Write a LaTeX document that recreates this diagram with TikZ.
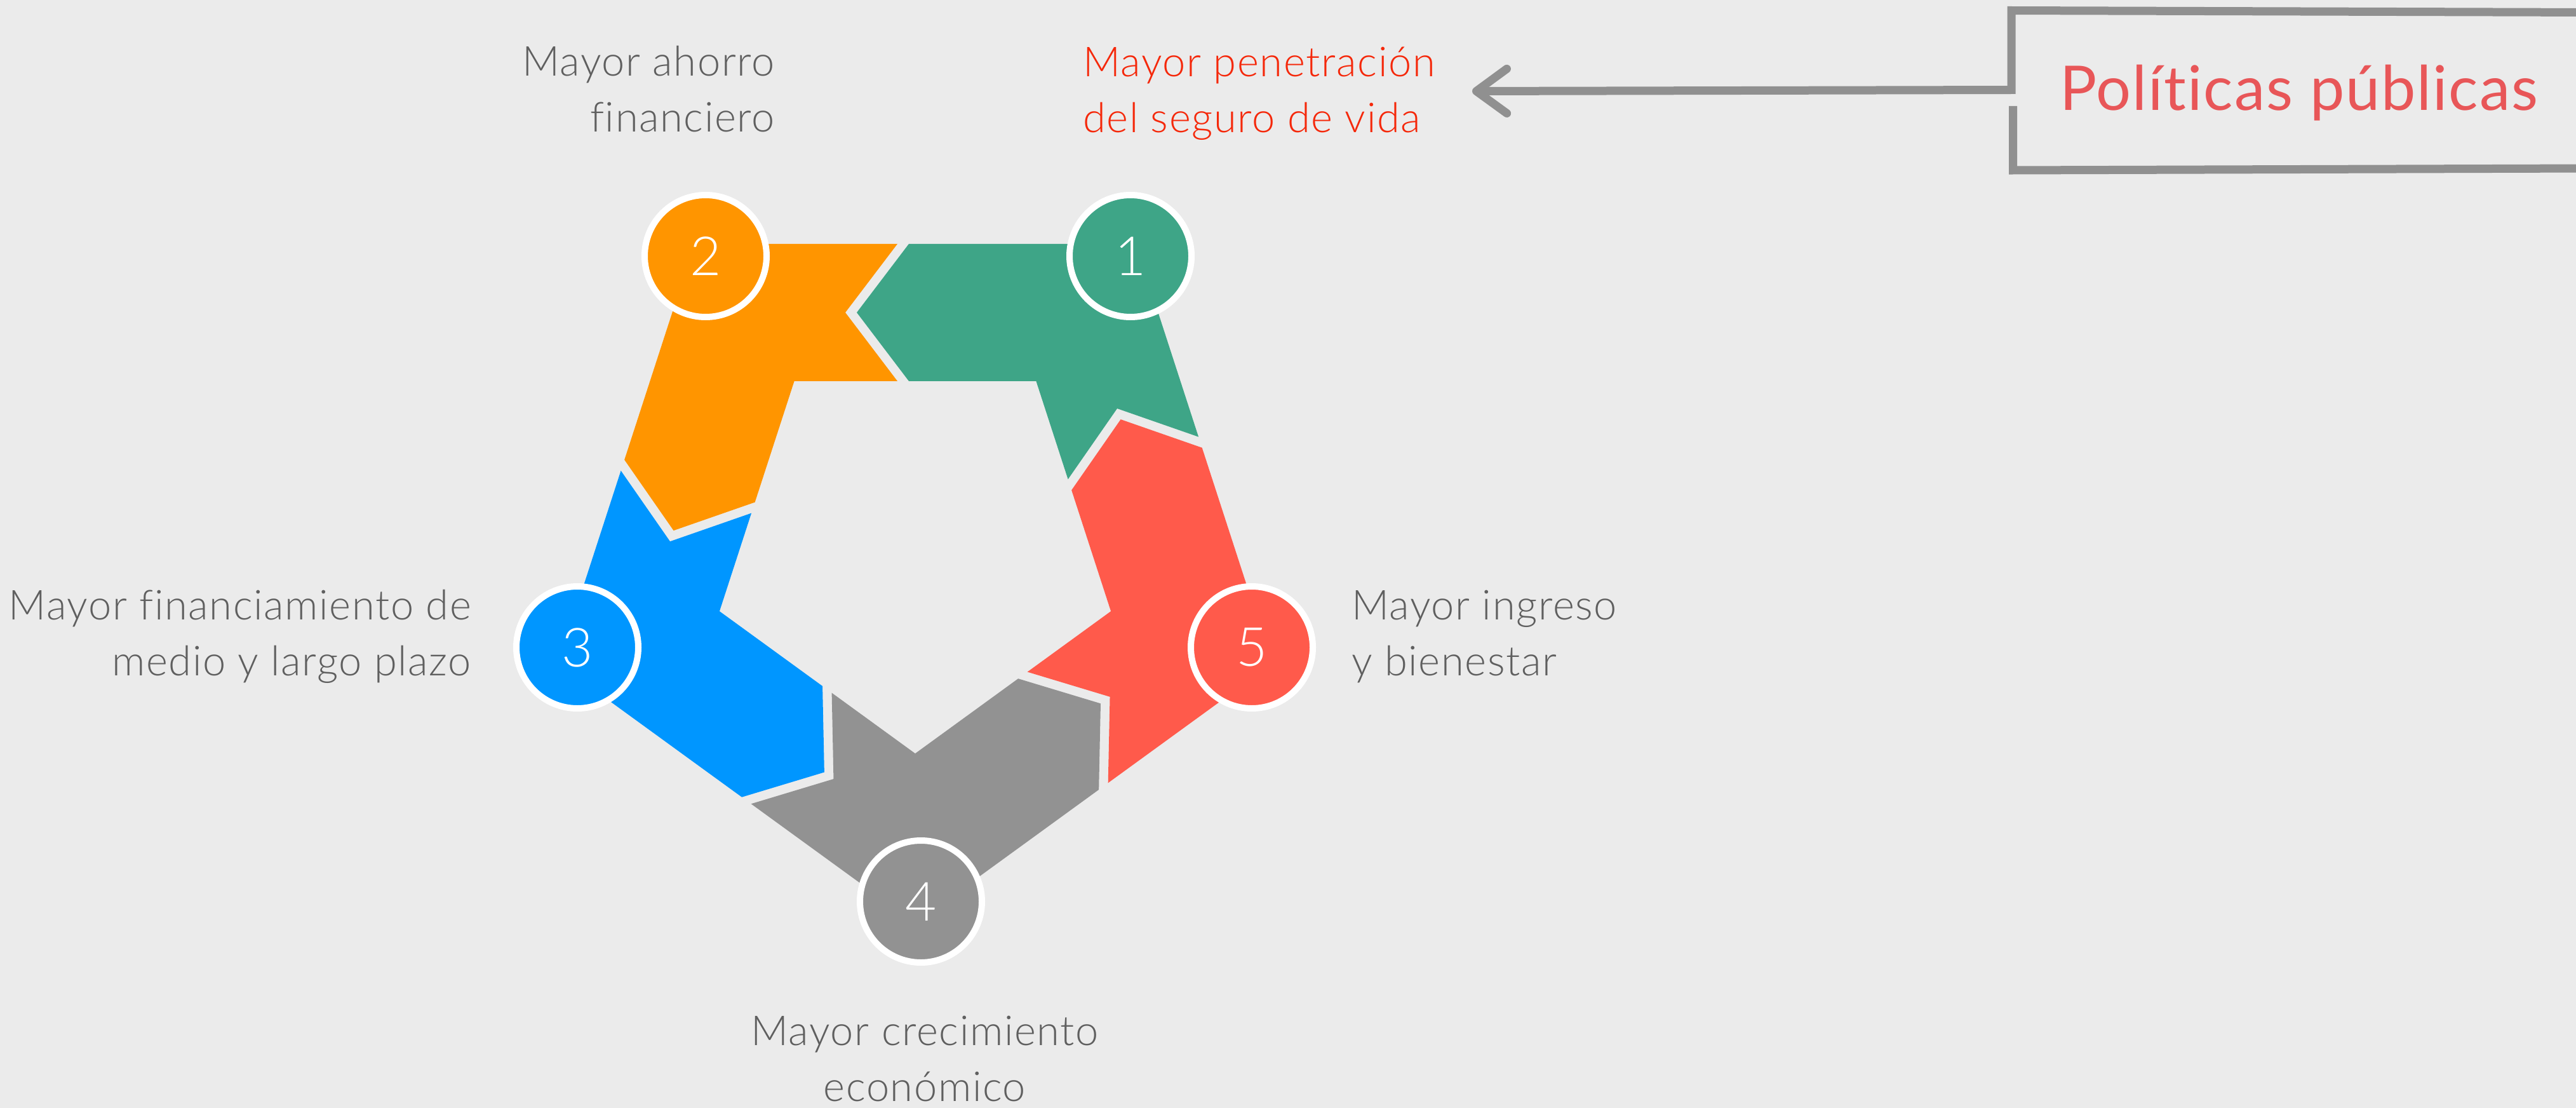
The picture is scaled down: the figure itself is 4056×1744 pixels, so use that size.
\documentclass[tikz,border=0pt]{standalone}
\usepackage{fontspec}
\setmainfont{Lato}[Ligatures=NoCommon]
\newfontfamily\lightfont{Lato Light}[Ligatures=NoCommon]
\newfontfamily\lightspaced{Lato Light}[Ligatures=NoCommon, LetterSpace=2.5]
\newfontfamily\titlefont{Lato}[Ligatures=NoCommon, LetterSpace=2]
\usetikzlibrary{arrows.meta}
\definecolor{bg}{RGB}{235,235,235}
\definecolor{cgreen}{RGB}{62,165,135}
\definecolor{corange}{RGB}{255,149,0}
\definecolor{cblue}{RGB}{0,150,255}
\definecolor{cgray}{RGB}{146,146,146}
\definecolor{cred}{RGB}{255,90,75}
\definecolor{labelgray}{RGB}{95,95,95}
\definecolor{labelred}{RGB}{245,40,10}
\definecolor{titlered}{RGB}{232,86,88}
\definecolor{linegray}{RGB}{144,144,144}
\begin{document}
\begin{tikzpicture}[x=1pt,y=-1pt,
  numcircle/.style={circle, draw=white, line width=10pt, minimum size=192pt, inner sep=0pt, text=white, font=\lightfont\fontsize{85}{85}\selectfont},
  lbl/.style={inner sep=0pt, text=labelgray, font=\lightspaced\fontsize{65}{88}\selectfont},
  bracket/.style={draw=linegray, line width=13pt}
]
\fill[bg] (0,0) rectangle (4056,1744);
\useasboundingbox (0,0) rectangle (4056,1744);

% pentagon pieces
\fill[cgreen] (1887.10,687.62) -- (1788.4,383.9) -- (1431,383.9) -- (1349,491.9) -- (1431,599.9) -- (1631.4,599.9) -- (1681.60,754.37) -- (1759.01,643.01) -- cycle;
\fill[corange] (1413,383.9) -- (1093.6,383.9) -- (983.16,723.76) -- (1060.57,835.10) -- (1188.66,790.51) -- (1250.6,599.9) -- (1413,599.9) -- (1331,491.9) -- cycle;
\fill[cblue] (977.60,740.88) -- (878.9,1044.6) -- (1168.04,1254.68) -- (1297.88,1215.51) -- (1295.04,1079.93) -- (1132.9,962.1) -- (1183.10,807.63) -- (1055.01,852.22) -- cycle;
\fill[cgray] (1182.60,1265.26) -- (1441,1453) -- (1730.14,1242.92) -- (1732.98,1107.35) -- (1603.14,1068.17) -- (1441,1186) -- (1309.60,1090.51) -- (1312.44,1226.09) -- cycle;
\fill[cred] (1744.70,1232.34) -- (2003.1,1044.6) -- (1892.66,704.74) -- (1764.57,660.13) -- (1687.16,771.49) -- (1749.1,962.1) -- (1617.70,1057.59) -- (1747.54,1096.77) -- cycle;

% numbered circles
\node[numcircle, fill=cgreen]  (c1) at (1780,403)  {1};
\node[numcircle, fill=corange] (c2) at (1111,403)  {2};
\node[numcircle, fill=cblue]   (c3) at (909,1019)  {3};
\node[numcircle, fill=cgray]   (c4) at (1450,1419) {4};
\node[numcircle, fill=cred]    (c5) at (1971,1019) {5};

% labels (base anchor = baseline of the last line)
\node[lbl, text=labelred, align=left, anchor=base west] (t1) at (1705,209) {Mayor penetración\\del seguro de vida};
\node[lbl, align=right, anchor=base east] (t2) at (1220,208) {Mayor ahorro\\financiero};
\node[lbl, align=right, anchor=base east] (t3) at (742,1063) {Mayor financiamiento de\\medio y largo plazo};
\node[lbl, align=center, anchor=base] (t4) at (1456,1733) {Mayor crecimiento\\económico};
\node[lbl, align=left, anchor=base west] (t5) at (2128,1063) {Mayor ingreso\\y bienestar};

% policy box
\node[inner sep=0pt, text=titlered, font=\titlefont\fontsize{97}{97}\selectfont, anchor=base west] (pol) at (3243,174) {Políticas públicas};
\coordinate (topright) at (4075,19.5);
\coordinate (topleft) at (3167,16.5);
\coordinate (joint) at (3167,141.5);
\coordinate (ptip) at (2318,143.5);
\coordinate (lowstart) at (3169.5,167);
\coordinate (lowleft) at (3169.5,268);
\coordinate (lowright) at (4075,265);
\draw[bracket, -{Straight Barb[length=48pt,width=70pt,round]}] (topright) -- (topleft) -- (joint) -- (ptip);
\draw[bracket] (lowstart) -- (lowleft) -- (lowright);
\end{tikzpicture}
\end{document}
